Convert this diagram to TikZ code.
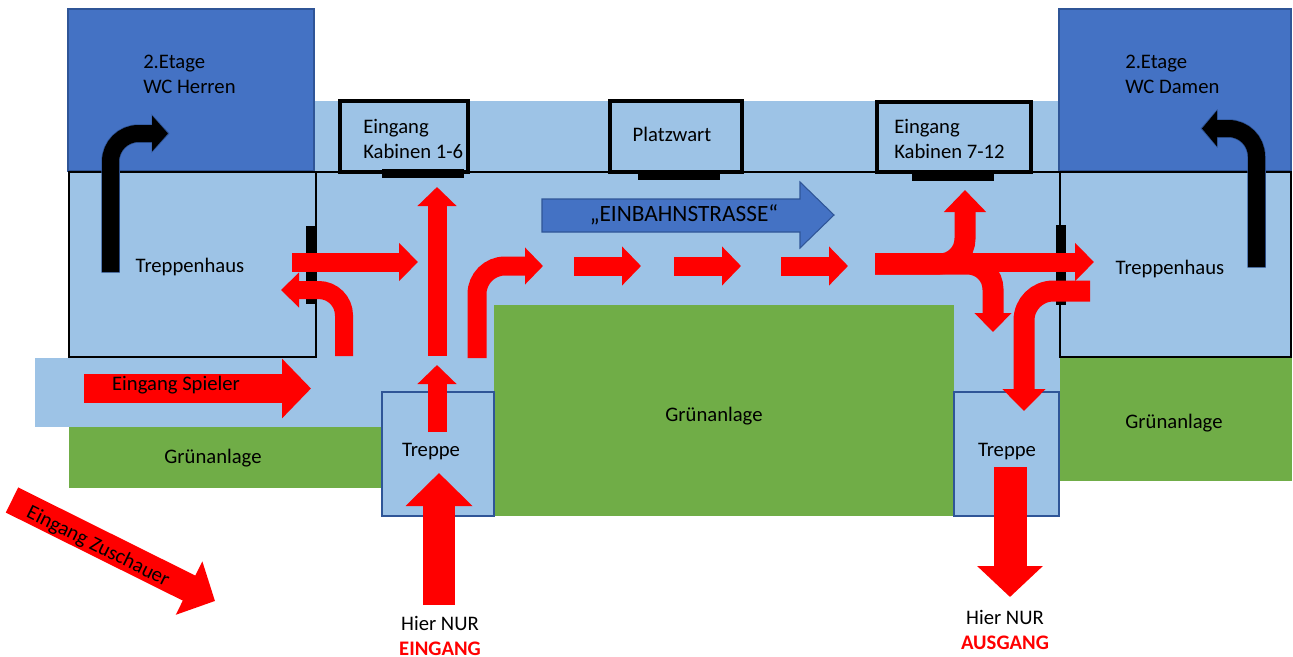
\documentclass[tikz,border=0pt]{standalone}
\usepackage{fontspec}
\setmainfont{Carlito}
\usepackage{xcolor}
\usetikzlibrary{arrows.meta}
\definecolor{hallblue}{HTML}{9DC3E6}
\definecolor{floorblue}{HTML}{4472C4}
\definecolor{edgeblue}{HTML}{2F5597}
\definecolor{lawn}{HTML}{70AD47}
\definecolor{flowred}{HTML}{FF0000}
\begin{document}
\begin{tikzpicture}[
        x=0.75pt, y=-0.75pt,
        hall/.style={fill=hallblue},
        lawnarea/.style={fill=lawn},
        upperfloor/.style={fill=floorblue, draw=edgeblue, line width=0.8pt},
        stairs/.style={fill=hallblue, draw=edgeblue, line width=1pt},
        room/.style={fill=hallblue, draw=black, line width=2.8pt},
        stairwell/.style={fill=hallblue, draw=black, line width=2pt},
        door/.style={fill=black},
        label/.style={font=\fontsize{15.5}{18.75}\selectfont, align=left, text=black, inner sep=0pt},
        flow/.style n args={3}{draw=flowred, line width=#1*0.75pt, -{Triangle[length=#2*0.75pt, width=#3*0.75pt]}},
        stairflow/.style n args={3}{draw=black, line width=#1*0.75pt, -{Triangle[length=#2*0.75pt, width=#3*0.75pt]}},
        stairedge/.style n args={3}{draw=edgeblue, line width=#1*0.75pt, -{Triangle[length=#2*0.75pt, width=#3*0.75pt]}},
    ]
    \useasboundingbox (0,0) rectangle (1293,657);
    % areas
    \path[hall] (314,101) rectangle (1060,392);
    \path[hall] (35,358) rectangle (382,427);
    \path[lawnarea] (69,427) rectangle (382,488);
    \path[lawnarea] (494,305) rectangle (954,516);
    \path[lawnarea] (1060,357) rectangle (1292,481);
    \draw[upperfloor] (68,9) rectangle (314,171);
    \draw[upperfloor] (1059,9) rectangle (1291,171);
    \draw[stairwell] (69,172) rectangle (316,357);
    \draw[stairwell] (1060,172) rectangle (1291,357);
    \draw[black, line width=2pt] (316,172) -- (1060,172);
    \draw[stairs] (382,392) rectangle (494,516);
    \draw[stairs] (954,392) rectangle (1059,516);
    \draw[room] (340,101) rectangle (468,172);
    \draw[room] (610,101) rectangle (742,172);
    \draw[room] (877,102) rectangle (1031,172);
    % doors
    \path[door] (382,169) rectangle (464,178);
    \path[door] (638,171) rectangle (720,180);
    \path[door] (912,171) rectangle (994,181);
    \path[door] (306,226) rectangle (317,304);
    \path[door] (1056,225) rectangle (1066,305);
    % one way
    \draw[fill=floorblue, draw=edgeblue, line width=0.8pt] (542,199) -- (800,199) -- (800,182) -- (834,215) -- (800,248) -- (800,232) -- (542,232) -- cycle;
    % stair arrows
    \draw[stairedge={18.5}{18}{38}, rounded corners=21pt] (110.5,272.5) |- (169.5,133.5);
    \draw[stairflow={17}{16}{35}, rounded corners=21pt] (110.5,272) |- (168,133.5);
    \draw[stairedge={18.5}{17}{38}, rounded corners=21pt] (1256.5,267.5) |- (1200.5,128.5);
    \draw[stairflow={17}{15}{35}, rounded corners=21pt] (1256.5,267) |- (1202,128.5);
    % red arrows
    \draw[flow={29}{29}{58}] (84,388.5) -- (311,388.5);
    \draw[flow={19}{19}{38}] (437,432) -- (437,365);
    \draw[flow={32}{33}{65}] (439,605) -- (439,473);
    \draw[flow={19}{19}{38}] (437,356) -- (437,187);
    \draw[flow={19}{19}{37}] (292,262) -- (418,262);
    \draw[flow={18}{18}{34}, rounded corners=19pt] (344,356) |- (281,290);
    \draw[flow={19}{18}{36}, rounded corners=21pt] (477,358) |- (543,266);
    \draw[flow={19}{19}{38}] (574,266) -- (641,266);
    \draw[flow={19}{19}{38}] (674,266) -- (741,266);
    \draw[flow={19}{19}{38}] (781,266) -- (848,266);
    \draw[flow={21}{22}{41}, rounded corners=19pt] (875,264) -| (965,190);
    \draw[flow={21}{19}{36}, rounded corners=19pt] (875,264) -| (993,332);
    \draw[flow={19}{19}{37}] (875,262) -- (1094,262);
    \draw[flow={21}{22}{42}, rounded corners=22pt] (1090,291) -| (1024,411);
    \draw[flow={33}{31}{64}] (1010,467) -- (1010,597);
    \draw[flow={28}{29}{58}] (12,500) -- (215,601);
    % texts
    \node[label, anchor=west] (herren) at (143,74) {2.Etage\\WC Herren};
    \node[label, anchor=west] (damen) at (1125,74) {2.Etage\\WC Damen};
    \node[label, anchor=west] (kabinenA) at (363,139) {Eingang\\Kabinen 1-6};
    \node[label, anchor=west] (kabinenB) at (894,139) {Eingang\\Kabinen 7-12};
    \node[label] (platzwart) at (672,134) {Platzwart};
    \node[label] (treppenhausA) at (190,267) {Treppenhaus};
    \node[label] (treppenhausB) at (1170,269) {Treppenhaus};
    \node[label] (gruenA) at (213,458) {Grünanlage};
    \node[label] (gruenB) at (714,416) {Grünanlage};
    \node[label] (gruenC) at (1174,423) {Grünanlage};
    \node[label] (treppeA) at (431,452) {Treppe};
    \node[label] (treppeB) at (1007,452) {Treppe};
    \node[label] (spieler) at (176,385) {Eingang Spieler};
    \node[label, rotate=-26.5] (zuschauer) at (98,547) {Eingang Zuschauer};
    \node[label, font=\fontsize{17.5}{18}\selectfont] (einbahn) at (684,215) {„EINBAHNSTRASSE“};
    \node[label, align=center] (hierein) at (440,636) {Hier NUR\\\textcolor{flowred}{\textbf{EINGANG}}};
    \node[label, align=center] (hieraus) at (1005,630) {Hier NUR\\\textcolor{flowred}{\textbf{AUSGANG}}};
    \end{tikzpicture}
\end{document}
